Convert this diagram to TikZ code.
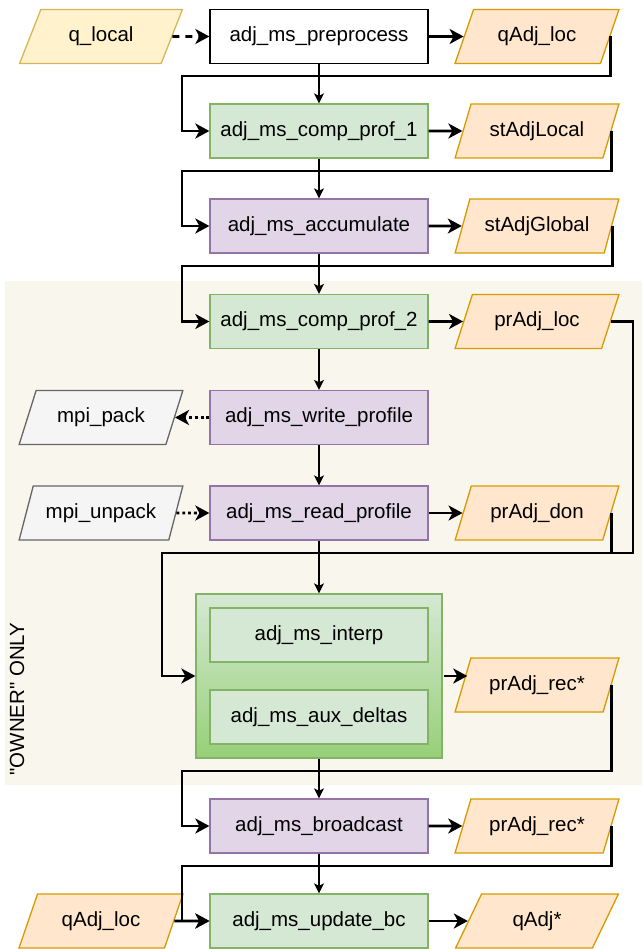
\documentclass[tikz,border=0pt]{standalone}
\usepackage{fontspec}
\setmainfont{Liberation Sans}
\usetikzlibrary{shapes.geometric,arrows.meta}

\definecolor{ownerbg}{HTML}{F9F7ED}
\definecolor{yelfill}{HTML}{FFF2CC}
\definecolor{yelline}{HTML}{D6B656}
\definecolor{orafill}{HTML}{FFE6CC}
\definecolor{oraline}{HTML}{D79B00}
\definecolor{grnfill}{HTML}{D5E8D4}
\definecolor{grnline}{HTML}{82B366}
\definecolor{grndark}{HTML}{97D077}
\definecolor{purfill}{HTML}{E1D5E7}
\definecolor{purline}{HTML}{9673A6}
\definecolor{gryfill}{HTML}{F5F5F5}
\definecolor{gryline}{HTML}{666666}

\tikzset{
  base/.style={font=\fontsize{20.5}{24}\selectfont, inner sep=0pt, line width=1.3pt},
  box/.style={base, draw, rectangle, minimum width=218pt, minimum height=54pt},
  para/.style={base, draw, trapezium, trapezium left angle=59, trapezium right angle=121,
    trapezium stretches=true, minimum width=164pt, minimum height=54pt},
  plainbox/.style={box, fill=white, draw=black},
  grnbox/.style={box, fill=grnfill, draw=grnline},
  purbox/.style={box, fill=purfill, draw=purline},
  yelpara/.style={para, fill=yelfill, draw=yelline},
  orapara/.style={para, fill=orafill, draw=oraline},
  grypara/.style={para, fill=gryfill, draw=gryline},
  thinarrow/.style={line width=1.4pt, -{Stealth[length=10pt,width=10pt,inset=2.5pt]}},
  thickline/.style={line width=2.9pt},
  thickarrow/.style={thickline, -{Stealth[length=14pt,width=15pt,inset=4pt]}},
}

\begin{document}
\begin{tikzpicture}[x=1pt,y=-1pt]
\useasboundingbox (0,0) rectangle (642,949);
\fill[ownerbg] (5,281) rectangle (642,785);
\node[base, rotate=90] (owner) at (17,699) {\textquotedbl OWNER\textquotedbl{} ONLY};

\node[plainbox] (pre) at (319,36.5) {adj\_ms\_preprocess};
\node[grnbox] (prof1) at (319,131) {adj\_ms\_comp\_prof\_1};
\node[purbox] (accum) at (319,226) {adj\_ms\_accumulate};
\node[grnbox] (prof2) at (319,321.5) {adj\_ms\_comp\_prof\_2};
\node[purbox] (write) at (319,417.5) {adj\_ms\_write\_profile};
\node[purbox] (read) at (319,513) {adj\_ms\_read\_profile};
\node[base, draw=grnline, top color=grnfill, bottom color=grndark,
  minimum width=246pt, minimum height=164pt] (grp) at (319,676) {};
\node[grnbox] (interp) at (319,635) {adj\_ms\_interp};
\node[grnbox] (aux) at (319,717) {adj\_ms\_aux\_deltas};
\node[purbox] (bcast) at (319,826) {adj\_ms\_broadcast};
\node[grnbox] (update) at (319,921) {adj\_ms\_update\_bc};

\node[yelpara] (qlocal) at (101,36.5) {q\_local};
\node[grypara] (mpipack) at (101,417.5) {mpi\_pack};
\node[grypara] (mpiunpack) at (101,513) {mpi\_unpack};
\node[orapara] (qadjlocb) at (101,921) {qAdj\_loc};

\node[orapara] (qadjloc) at (537,36.5) {qAdj\_loc};
\node[orapara] (stlocal) at (537,131) {stAdjLocal};
\node[orapara] (stglobal) at (537,226) {stAdjGlobal};
\node[orapara] (prloc) at (537,321.5) {prAdj\_loc};
\node[orapara] (prdon) at (537,513) {prAdj\_don};
\node[orapara] (prrec) at (537,685) {prAdj\_rec*};
\node[orapara] (prrecb) at (537,826) {prAdj\_rec*};
\node[orapara] (qadjstar) at (537,921) {qAdj*};

\coordinate (mergept) at (162,553);

\draw[thickarrow, dash pattern=on 7pt off 6pt] (qlocal.east) -- (pre.west);
\draw[thickarrow] (pre.east) -- (qadjloc.west);
\draw[thickarrow] (prof1.east) -- (stlocal.west);
\draw[thickarrow] (accum.east) -- (stglobal.west);
\draw[thickarrow] (prof2.east) -- (prloc.west);
\draw[thickarrow] (read.east) -- (prdon.west);
\draw[thickarrow] ([xshift=1pt]grp.east) -- ([xshift=5pt]grp.east -| prrec.west);
\draw[thickarrow] (bcast.east) -- (prrecb.west);
\draw[thickarrow] (update.east) -- (qadjstar.west);
\draw[thickarrow] (qadjlocb.east) -- (update.west);

\draw[thickarrow, dash pattern=on 2.9pt off 2.9pt] (write.west) -- (mpipack.east);
\draw[thickarrow, dash pattern=on 2.9pt off 2.9pt] (mpiunpack.east) -- (read.west);

\draw[thinarrow] (pre) -- (prof1);
\draw[thinarrow] (prof1) -- (accum);
\draw[thinarrow] (accum) -- (prof2);
\draw[thinarrow] (prof2) -- (write);
\draw[thinarrow] (write) -- (read);
\draw[thinarrow] (read) -- (grp);
\draw[thinarrow] (grp) -- (bcast);
\draw[thinarrow] (bcast) -- (update);

\draw[thickarrow] (qadjloc.east) |- (182,76) |- (prof1.west);
\draw[thickarrow] (stlocal.east) |- (182,171) |- (accum.west);
\draw[thickarrow] (stglobal.east) |- (182,266) |- (prof2.west);
\draw[thickarrow] (prloc.east) -- ++(22,0) |- (mergept) |- (grp.west);
\draw[thickline] (prdon.east) |- (mergept);
\draw[thickarrow] (prrec.east) |- (182,771) |- (bcast.west);
\draw[thickarrow] (prrecb.east) |- (182,866) |- (update.west);

\end{tikzpicture}
\end{document}
